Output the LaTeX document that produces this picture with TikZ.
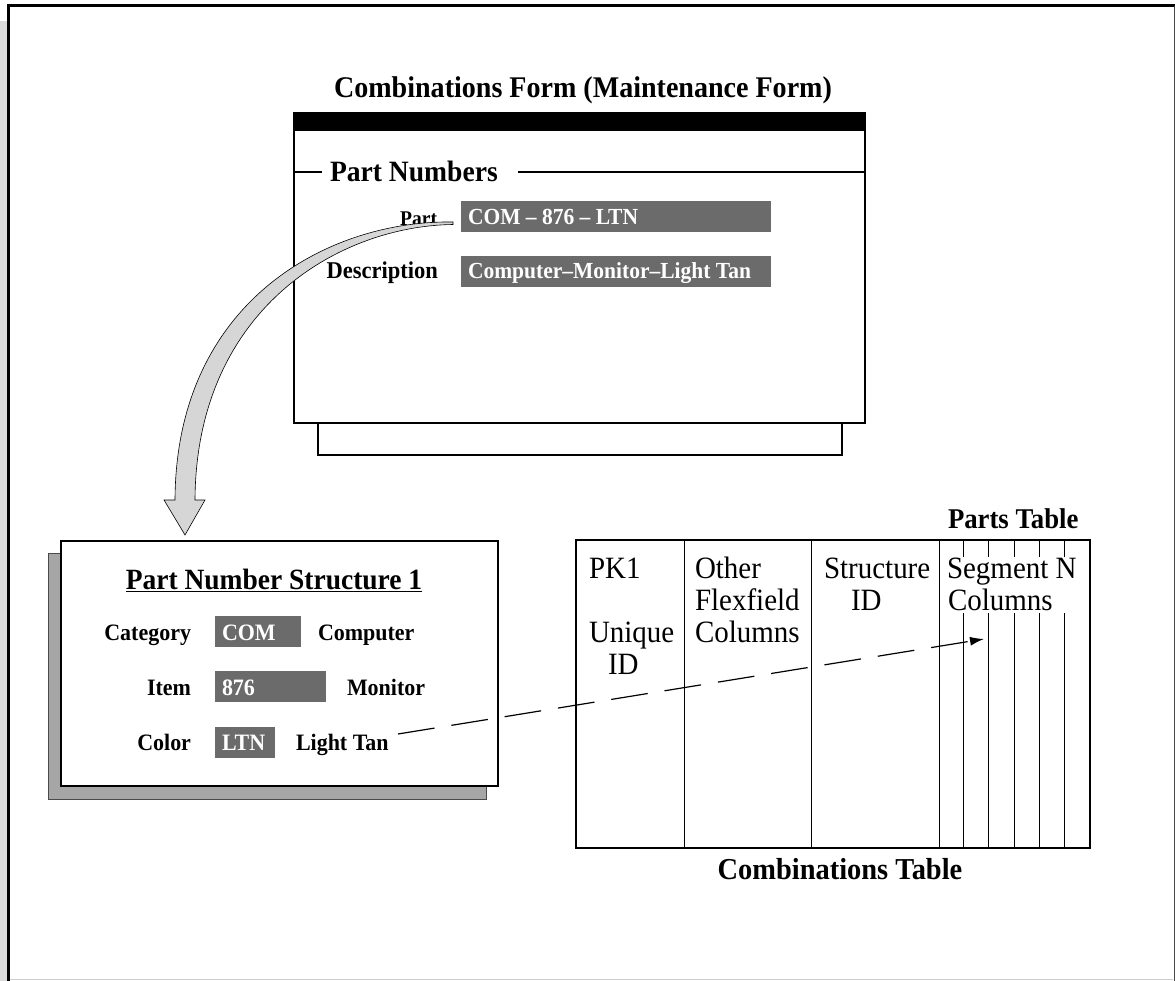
\documentclass[tikz,border=0pt]{standalone}
\usepackage{fontspec}
\setmainfont{Liberation Serif}[FakeStretch=0.935]
\usetikzlibrary{arrows.meta}
\definecolor{fieldgray}{HTML}{6B6B6B}
\definecolor{arrowgray}{HTML}{D6D6D6}
\definecolor{shadowgray}{HTML}{A6A6A6}
\definecolor{stripgray}{HTML}{D9D9D9}
\definecolor{edgegray}{HTML}{4A4A4A}
\definecolor{rulegray}{HTML}{CFCFCF}

\newcommand{\fsz}[1]{\fontsize{#1}{#1}\selectfont}

\begin{document}
\begin{tikzpicture}[x=1pt,y=-1pt,
  txt/.style={inner sep=0pt, outer sep=0pt},
  bigbold/.style={txt, font=\fsz{30}\bfseries},
  lbl/.style={txt, font=\fsz{23.5}\bfseries},
  fieldtxt/.style={txt, font=\fsz{23}\bfseries, text=white},
  celltxt/.style={txt, font=\fsz{31}},
  field/.style={fill=fieldgray, draw=none},
  frameline/.style={line width=2pt},
  thinline/.style={line width=1pt},
  link/.style={line width=1.2pt, dash pattern=on 37pt off 17pt, -{Latex[length=14pt,width=9pt]}}
]
\useasboundingbox (0,0) rectangle (1175,981);

% window frame
\fill[stripgray] (0,21) rectangle (7,981);
\draw[line width=3pt] (8.5,981) -- (8.5,6) -- (1175,6);
\draw[edgegray, line width=1pt] (1174,6) -- (1174,981);
\draw[rulegray, line width=1.2pt] (10,979.5) -- (1173,979.5);

% ---------- maintenance form ----------
\node[bigbold, anchor=base] (formtitle) at (583,98) {Combinations Form (Maintenance Form)};
\draw[frameline, fill=white] (318,400) rectangle (842,455);
\draw[frameline, fill=white] (294,113) rectangle (865,423);
\fill (294,113) rectangle (865,131);

\node[bigbold, anchor=base west, font=\fsz{29.5}\bfseries] (pn) at (330,182) {Part Numbers};
\draw[frameline] (294,172.5) -- (322,172.5);
\draw[frameline] (518,172.5) -- (865,172.5);

\node[txt, anchor=base east, font=\fsz{20.9}\bfseries] (partlbl) at (437,226) {Part};
\node[field, minimum width=310pt, minimum height=31pt, anchor=north west, inner sep=0pt] (partbox) at (461,201) {};
\node[fieldtxt, anchor=base west] (partval) at (468,225) {COM – 876 – LTN};

\node[txt, anchor=base east, font=\fsz{24.1}\bfseries] (desclbl) at (438,279) {Description};
\node[field, minimum width=310pt, minimum height=31pt, anchor=north west, inner sep=0pt] (descbox) at (461,256) {};
\node[fieldtxt, anchor=base west] (descval) at (468,279) {Computer–Monitor–Light Tan};

% ---------- part number structure ----------
\draw[edgegray, fill=shadowgray, line width=0.8pt] (48,553) rectangle (486,799);
\draw[line width=2.5pt, fill=white] (61,541) rectangle (498,786);

\node[txt, anchor=base, font=\fsz{29.4}\bfseries] (structtitle) at (274,589) {\underline{Part Number Structure 1}};

\node[lbl, anchor=base east] (catlbl) at (191,640) {Category};
\node[field, minimum width=86pt, minimum height=31pt, anchor=north west, inner sep=0pt] (catbox) at (215,616) {};
\node[fieldtxt, font=\fsz{23.5}\bfseries, anchor=base west] (catval) at (222,640) {COM};
\node[lbl, anchor=base west] (catdesc) at (318,640) {Computer};

\node[lbl, anchor=base east] (itemlbl) at (191,695) {Item};
\node[field, minimum width=111pt, minimum height=31pt, anchor=north west, inner sep=0pt] (itembox) at (215,671) {};
\node[fieldtxt, font=\fsz{23.5}\bfseries, anchor=base west] (itemval) at (222,695) {876};
\node[lbl, anchor=base west] (itemdesc) at (347,695) {Monitor};

\node[lbl, anchor=base east] (collbl) at (191,750) {Color};
\node[field, minimum width=60pt, minimum height=31pt, anchor=north west, inner sep=0pt] (colbox) at (215,727) {};
\node[fieldtxt, font=\fsz{23.5}\bfseries, anchor=base west] (colval) at (222,750) {LTN};
\node[lbl, anchor=base west] (coldesc) at (296,750) {Light Tan};

% ---------- combinations table ----------
\node[txt, anchor=base west, font=\fsz{28.6}\bfseries] (partstitle) at (948,528) {Parts Table};
\draw[frameline] (576,540) rectangle (1090,848);
\foreach \cx in {684,811,939}
  \draw[thinline] (\cx,540) -- (\cx,848);
\foreach \cx in {963,988,1014,1039,1064}{
  \draw[thinline] (\cx,540) -- (\cx,557);
  \draw[thinline] (\cx,613) -- (\cx,848);
}

\node[celltxt, anchor=base west] (pk) at (589,578) {PK1};
\node[celltxt, anchor=base west] (uq) at (589,642) {Unique};
\node[celltxt, anchor=base west] (uqid) at (608,674) {ID};
\node[celltxt, anchor=base west] (oth1) at (695,578) {Other};
\node[celltxt, anchor=base west] (oth2) at (695,610) {Flexfield};
\node[celltxt, anchor=base west] (oth3) at (695,642) {Columns};
\node[celltxt, anchor=base west] (st1) at (824,578) {Structure};
\node[celltxt, anchor=base west] (st2) at (851,610) {ID};
\node[celltxt, anchor=base west] (sg1) at (947,578) {Segment N};
\node[celltxt, anchor=base west] (sg2) at (948,610) {Columns};

\node[txt, anchor=base, font=\fsz{30.4}\bfseries] (combtitle) at (840,879) {Combinations Table};

% ---------- connectors ----------
\coordinate (linkstart) at (398,734);
\coordinate (linkend) at (984,639);
\draw[link] (linkstart) -- (linkend);

% broad curved arrow from the part field down to the structure
\coordinate (arrtail) at (453,222);
\coordinate (arrtip) at (185,535);
\draw[fill=arrowgray, line width=0.6pt, line join=miter]
  (arrtail) .. controls (330,220) and (176,300) .. (175,500)
  -- (164,500) -- (arrtip) -- (205,500) -- (195,500)
  .. controls (196,310) and (338,226) .. (453,224.5) -- cycle;
\end{tikzpicture}
\end{document}
